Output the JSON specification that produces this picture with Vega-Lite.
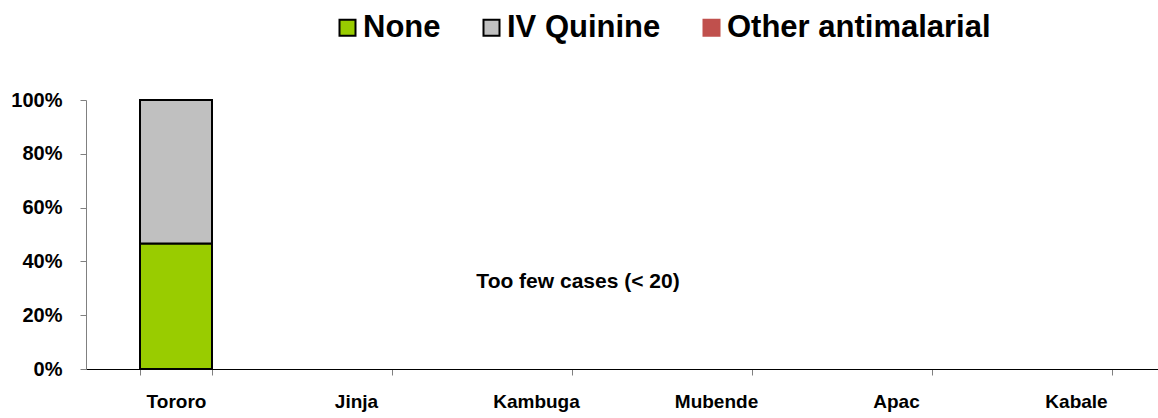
{
  "$schema": "https://vega.github.io/schema/vega-lite/v6.json",
  "width": 1072,
  "height": 269,
  "autosize": {"type": "none"},
  "padding": {"left": 86, "top": 100, "right": 0, "bottom": 49},
  "background": "white",
  "config": {"view": {"stroke": null}, "font": "Liberation Sans"},
  "datasets": {
    "bars": [
      {"site": "Tororo", "treatment": "None", "share": 0.467},
      {"site": "Tororo", "treatment": "IV Quinine", "share": 0.533}
    ],
    "notes": [
      {"site": "Kambuga", "label": "Too few cases (< 20)", "share": 0.323}
    ]
  },
  "layer": [
    {
      "data": {"name": "bars"},
      "transform": [
        {"calculate": "indexof(['None','IV Quinine','Other antimalarial'], datum.treatment)", "as": "stackOrder"}
      ],
      "mark": {"type": "bar", "strokeWidth": 2},
      "encoding": {
        "x": {
          "field": "site", "type": "nominal",
          "scale": {"domain": ["Tororo", "Jinja", "Kambuga", "Mubende", "Apac", "Kabale"], "paddingInner": 0.6, "paddingOuter": 0.3, "range": [0, 1080]},
          "axis": {
            "title": null, "labelAngle": 0, "labelFontSize": 19, "labelFontWeight": "bold", "labelColor": "#000000",
            "labelPadding": 17, "tickBand": "extent", "tickSize": 6, "tickColor": "#808080",
            "domainColor": "#000000", "domainWidth": 1.2, "labelFont": "Liberation Sans"
          }
        },
        "y": {
          "field": "share", "type": "quantitative", "stack": "zero",
          "scale": {"domain": [0, 1], "nice": false},
          "axis": {
            "title": null, "format": ".0%", "values": [0, 0.2, 0.4, 0.6, 0.8, 1],
            "labelFontSize": 20, "labelFontWeight": "bold", "labelColor": "#000000", "labelPadding": 18,
            "tickSize": 6, "tickColor": "#808080", "domainColor": "#808080", "grid": false, "labelFont": "Liberation Sans"
          }
        },
        "fill": {
          "field": "treatment", "type": "nominal",
          "scale": {"domain": ["None", "IV Quinine", "Other antimalarial"], "range": ["#99CC00", "#C0C0C0", "#C0504D"]},
          "legend": {
            "title": null, "orient": "none", "legendX": 246, "legendY": -88, "direction": "horizontal",
            "symbolType": "square", "symbolSize": 256, "symbolStrokeWidth": 2, "labelFontSize": 31,
            "labelFontWeight": "bold", "labelColor": "#000000", "labelFont": "Liberation Sans",
            "labelOffset": 0, "columnPadding": 35, "labelLimit": 400
          }
        },
        "stroke": {
          "field": "treatment", "type": "nominal",
          "scale": {"domain": ["None", "IV Quinine", "Other antimalarial"], "range": ["#000000", "#000000", "#C0504D"]}
        },
        "order": {"field": "stackOrder", "type": "quantitative"}
      }
    },
    {
      "data": {"name": "notes"},
      "mark": {"type": "text", "font": "Liberation Sans", "fontSize": 21, "fontWeight": "bold", "color": "#000000", "align": "center", "baseline": "middle", "dx": 42},
      "encoding": {
        "x": {"field": "site", "type": "nominal"},
        "y": {"field": "share", "type": "quantitative"},
        "text": {"field": "label"}
      }
    }
  ]
}
